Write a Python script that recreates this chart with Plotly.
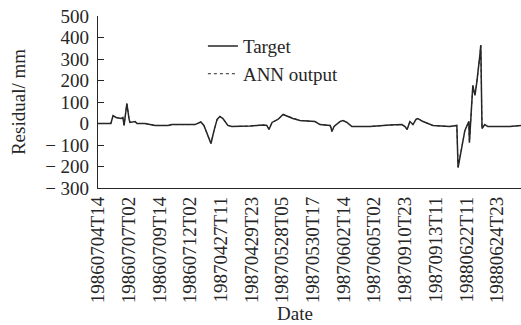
import plotly.graph_objects as go

# sample index (x) and residual values (mm)
sample = [0, 42, 49, 59, 75, 81, 85, 94, 101, 104, 121, 127, 153, 186, 228, 241, 316, 335, 345,
          368, 378, 388, 397, 407, 423, 436, 495, 537, 550, 557, 567, 586, 603, 619, 635, 658,
          707, 723, 756, 759, 762, 769, 778, 788, 798, 811, 827, 886, 951, 990, 1000, 1007,
          1016, 1026, 1036, 1042, 1059, 1091, 1146, 1169, 1173, 1186, 1195, 1205, 1208, 1210,
          1218, 1221, 1228, 1234, 1244, 1247, 1251, 1260, 1270, 1293, 1342, 1378]
target = [0, 0, 37, 28, 23, 28, -9, 93, 23, 5, 9, 0, 0, -9, -9, -5, -5, 7, -9,
          -93, -33, 19, 33, 23, -9, -14, -12, -7, -9, -28, 5, 19, 42, 33, 23, 14,
          9, -5, -9, -19, -37, -14, -5, 9, 14, 5, -14, -14, -7, -5, -14, -28,
          9, -5, 19, 23, 9, -9, -14, -9, -205, -103, -33, 0, 9, -89,
          121, 177, 131, 191, 318, 365, -23, -5, -14, -14, -14, -9]
ann_output = [0, 0, 36, 28, 24, 27, -8, 92, 22, 5, 9, 0, 0, -9, -9, -5, -5, 7, -9,
              -92, -33, 19, 33, 23, -9, -14, -12, -7, -9, -27, 5, 19, 41, 33, 23, 14,
              9, -5, -9, -19, -36, -14, -5, 9, 14, 5, -14, -14, -7, -5, -14, -27,
              9, -5, 19, 23, 9, -9, -14, -9, -203, -102, -33, 0, 9, -88,
              120, 176, 131, 190, 316, 362, -23, -5, -14, -14, -14, -9]

tick_pos = [0, 100, 200, 300, 400, 500, 600, 700, 800, 900, 1000, 1100, 1200, 1300]
tick_dates = ["19860704T14", "19860707T02", "19860709T14", "19860712T02", "19870427T11",
              "19870429T23", "19870528T05", "19870530T17", "19870602T14", "19870605T02",
              "19870910T23", "19870913T11", "19880622T11", "19880624T23"]
y_ticks = [500, 400, 300, 200, 100, 0, -100, -200, -300]
y_labels = ["500", "400", "300", "200", "100", "0", "− 100", "− 200", "− 300"]

FONT = "Liberation Serif"
INK = "#262626"

fig = go.Figure()
fig.add_trace(go.Scatter(x=sample, y=target, mode="lines", name="Target",
                         line=dict(color=INK, width=1.5)))
fig.add_trace(go.Scatter(x=sample, y=ann_output, mode="lines", name="ANN output",
                         line=dict(color=INK, width=1.0, dash="dot")))

fig.update_layout(
    width=521, height=325,
    margin=dict(l=98, r=0, t=16, b=137),
    paper_bgcolor="white", plot_bgcolor="white",
    font=dict(family=FONT, size=19, color=INK),
    showlegend=True,
    legend=dict(x=0.248, y=0.935, xanchor="left", yanchor="top",
                bgcolor="rgba(0,0,0,0)", font=dict(family=FONT, size=19, color=INK),
                itemwidth=30, tracegroupgap=0),
    xaxis=dict(range=[0, 1378], tickvals=tick_pos, ticktext=tick_dates, tickangle=-90,
               showline=True, linecolor=INK, linewidth=1.2, ticks="", showgrid=False,
               zeroline=False, tickfont=dict(family=FONT, size=19, color=INK)),
    yaxis=dict(range=[-300, 500], tickvals=y_ticks, ticktext=y_labels,
               showline=True, linecolor=INK, linewidth=1.2, ticks="inside", ticklen=6,
               tickcolor=INK, showgrid=False, zeroline=False, ticklabelstandoff=4,
               tickfont=dict(family=FONT, size=19, color=INK)),
    annotations=[
        dict(text="Date", xref="paper", yref="paper", x=0.466, y=-0.73,
             xanchor="center", yanchor="middle", showarrow=False,
             font=dict(family=FONT, size=19, color=INK)),
        dict(text="Residual/ mm", xref="paper", yref="paper", x=-0.189, y=0.5,
             xanchor="center", yanchor="middle", textangle=-90, showarrow=False,
             font=dict(family=FONT, size=19, color=INK)),
    ],
)

fig.write_html("out.html")
